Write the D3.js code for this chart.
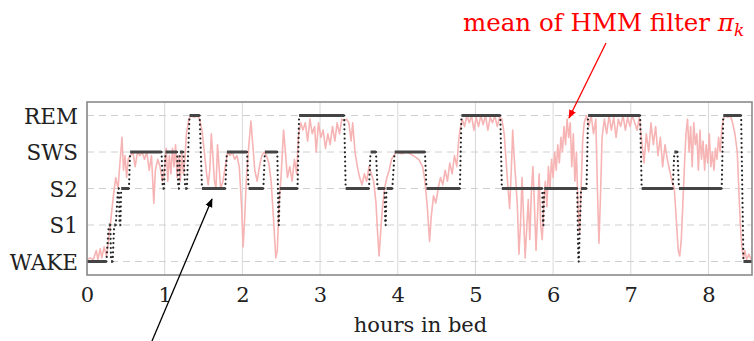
<!DOCTYPE html>
<html>
<head>
<meta charset="utf-8">
<script src="https://cdn.jsdelivr.net/npm/d3@7"></script>
<style>
  body { margin: 0; background: #fff; }
  svg { display: block; }
  text { font-family: "DejaVu Serif", "Liberation Serif", serif; }
</style>
</head>
<body>
<svg id="chart" width="754" height="341"></svg>
<script>
// sleep stages (bottom to top)
const stages = ['WAKE', 'S1', 'S2', 'SWS', 'REM'];
const hourTicks = [0, 1, 2, 3, 4, 5, 6, 7, 8];

// scored hypnogram: stage held from start to end (hours)
const stageStart = [0.00, 0.28, 0.31, 0.35, 0.40, 0.42, 0.44, 0.555, 0.975, 1.01, 1.175, 1.195, 1.265, 1.32, 1.48, 1.80, 2.08, 2.29, 2.465, 2.48, 2.73, 3.33, 3.65, 3.74, 3.84, 3.855, 3.96, 4.37, 4.82, 5.34, 5.87, 5.885, 6.325, 6.36, 6.45, 7.14, 7.56, 7.62, 8.19, 8.45];
const stageEnd   = [0.25, 0.30, 0.33, 0.37, 0.41, 0.43, 0.54, 0.96, 0.99, 1.16, 1.185, 1.24, 1.285, 1.45, 1.78, 2.06, 2.27, 2.45, 2.47, 2.71, 3.31, 3.63, 3.72, 3.83, 3.845, 3.93, 4.35, 4.80, 5.32, 5.86, 5.875, 6.31, 6.33, 6.43, 7.12, 7.54, 7.60, 8.17, 8.42, 8.56];
const stageName  = ['WAKE', 'S1', 'WAKE', 'S1', 'S2', 'S1', 'S2', 'SWS', 'S2', 'SWS', 'S2', 'SWS', 'S2', 'REM', 'S2', 'SWS', 'S2', 'SWS', 'S1', 'S2', 'REM', 'S2', 'SWS', 'S2', 'S1', 'S2', 'SWS', 'S2', 'REM', 'S2', 'S1', 'S2', 'WAKE', 'S2', 'REM', 'S2', 'SWS', 'S2', 'REM', 'WAKE'];

// mean of the HMM filter, [hours, stage index]
const filterMean = [
  [0.00,0.05],[0.04,0.1],[0.08,0.05],[0.12,0.3],[0.14,0.05],[0.17,0.35],[0.19,0.1],[0.22,0.4],[0.25,0.15],[0.28,0.6],
  [0.31,1.2],[0.34,1.8],[0.37,2.3],[0.40,2.0],[0.42,2.6],[0.44,3.1],[0.45,3.4],[0.47,2.5],[0.49,2.9],[0.51,2.3],
  [0.53,2.8],[0.56,2.9],[0.59,3.0],[0.62,2.6],[0.65,3.0],[0.68,2.9],[0.71,3.0],[0.74,2.8],[0.77,3.0],[0.80,2.5],
  [0.83,2.9],[0.86,1.6],[0.88,2.5],[0.91,2.8],[0.94,2.6],[0.97,2.2],[1.00,2.6],[1.02,3.1],[1.04,2.2],[1.06,2.9],
  [1.08,2.4],[1.10,3.1],[1.12,2.6],[1.14,3.2],[1.16,2.3],[1.18,2.9],[1.20,2.2],[1.22,3.0],[1.24,2.4],[1.26,2.8],
  [1.28,3.5],[1.31,3.9],[1.34,4.0],[1.38,3.95],[1.42,4.0],[1.45,3.9],[1.48,3.6],[1.51,3.0],[1.54,2.4],[1.56,2.1],
  [1.58,2.5],[1.60,3.5],[1.62,2.9],[1.64,2.2],[1.66,2.0],[1.68,3.2],[1.70,2.6],[1.72,2.0],[1.75,2.2],[1.78,2.6],
  [1.81,3.0],[1.84,2.9],[1.87,3.0],[1.90,2.8],[1.93,2.9],[1.96,2.6],[1.99,1.5],[2.01,0.4],[2.03,1.2],[2.05,2.2],
  [2.08,3.1],[2.11,3.85],[2.13,3.3],[2.16,2.5],[2.19,2.2],[2.22,2.6],[2.25,2.9],[2.28,3.0],[2.31,2.9],[2.34,2.7],
  [2.37,2.2],[2.40,1.2],[2.43,0.1],[2.45,0.3],[2.47,1.5],[2.50,2.4],[2.53,3.6],[2.55,3.1],[2.58,2.3],[2.61,2.6],
  [2.64,2.2],[2.67,2.8],[2.70,2.4],[2.72,3.4],[2.75,3.8],[2.78,3.6],[2.81,3.8],[2.84,3.3],[2.87,3.9],[2.90,3.5],
  [2.93,3.7],[2.95,3.0],[2.98,3.8],[3.01,3.4],[3.04,3.6],[3.07,3.1],[3.10,3.5],[3.13,3.2],[3.16,3.7],[3.19,3.3],
  [3.22,3.8],[3.25,3.5],[3.28,3.9],[3.31,3.85],[3.34,3.9],[3.37,3.8],[3.40,3.3],[3.42,3.8],[3.45,3.0],[3.48,2.6],
  [3.51,2.3],[3.54,2.1],[3.57,2.4],[3.60,2.2],[3.63,2.6],[3.66,2.4],[3.69,2.2],[3.72,1.6],[3.74,0.8],[3.76,0.15],
  [3.78,0.8],[3.80,1.4],[3.83,2.0],[3.86,2.3],[3.89,2.5],[3.92,2.8],[3.95,2.9],[3.98,3.0],[4.05,2.95],[4.12,3.0],
  [4.20,2.9],[4.27,2.8],[4.32,2.6],[4.35,2.2],[4.38,1.5],[4.41,0.55],[4.43,1.2],[4.46,1.8],[4.49,1.6],[4.52,2.0],
  [4.55,2.3],[4.58,2.1],[4.61,2.5],[4.64,2.2],[4.67,2.7],[4.70,2.4],[4.73,2.9],[4.76,2.6],[4.78,3.2],[4.80,3.6],
  [4.83,3.9],[4.86,3.7],[4.89,4.0],[4.92,3.8],[4.95,4.0],[4.98,3.6],[5.01,3.95],[5.04,3.7],[5.07,4.0],[5.10,3.75],
  [5.13,4.0],[5.16,3.6],[5.19,3.95],[5.22,3.8],[5.25,4.0],[5.28,3.7],[5.31,3.95],[5.34,3.9],[5.37,3.5],[5.40,2.6],
  [5.42,2.0],[5.44,1.45],[5.46,2.4],[5.48,3.6],[5.50,2.8],[5.52,2.2],[5.54,1.5],[5.56,0.2],[5.58,1.0],[5.60,2.3],
  [5.62,1.2],[5.64,0.1],[5.66,0.9],[5.68,1.7],[5.70,0.6],[5.72,1.9],[5.74,2.6],[5.76,1.5],[5.78,0.3],[5.80,1.3],
  [5.82,2.4],[5.84,1.0],[5.86,0.6],[5.88,1.6],[5.90,2.2],[5.92,1.5],[5.94,2.6],[5.96,2.0],[5.98,2.8],[6.00,2.3],
  [6.02,3.0],[6.04,2.5],[6.06,3.2],[6.08,2.7],[6.10,3.4],[6.12,3.0],[6.14,3.7],[6.16,3.2],[6.18,3.9],[6.20,3.4],
  [6.22,3.8],[6.24,2.6],[6.26,3.5],[6.28,2.2],[6.30,3.0],[6.32,1.5],[6.34,0.8],[6.36,2.0],[6.38,3.3],[6.40,3.8],
  [6.43,4.0],[6.46,3.7],[6.49,4.0],[6.52,3.5],[6.55,3.9],[6.57,2.0],[6.59,0.5],[6.61,1.8],[6.63,3.4],[6.66,3.9],
  [6.69,3.5],[6.72,4.0],[6.75,3.6],[6.78,3.95],[6.81,3.4],[6.84,3.9],[6.87,3.7],[6.90,4.0],[6.93,3.6],[6.96,3.95],
  [6.99,3.7],[7.02,4.0],[7.05,3.8],[7.08,3.6],[7.11,3.95],[7.14,3.3],[7.17,2.7],[7.20,3.5],[7.23,3.0],[7.26,3.8],
  [7.29,3.2],[7.32,3.7],[7.35,2.9],[7.38,3.4],[7.41,2.6],[7.44,3.2],[7.47,2.8],[7.50,2.5],[7.53,2.2],[7.56,2.0],
  [7.59,1.0],[7.61,0.3],[7.63,0.15],[7.65,0.6],[7.67,1.6],[7.69,2.6],[7.71,3.5],[7.73,3.9],[7.75,3.0],[7.77,3.7],
  [7.79,2.6],[7.81,3.8],[7.83,3.2],[7.85,3.5],[7.87,2.5],[7.89,3.6],[7.91,2.8],[7.93,3.3],[7.95,2.5],[7.97,3.2],
  [7.99,2.7],[8.01,3.5],[8.03,2.6],[8.05,3.0],[8.07,2.5],[8.09,3.1],[8.11,2.8],[8.13,3.4],[8.15,3.0],[8.17,3.6],
  [8.19,3.9],[8.22,4.0],[8.25,3.95],[8.28,4.0],[8.31,3.8],[8.34,3.5],[8.37,3.0],[8.39,2.0],[8.41,1.0],[8.43,0.4],
  [8.45,0.1],[8.47,0.3],[8.49,0.05],[8.52,0.2],[8.55,0.05]
];

// plot box
const box = { left: 87, right: 752, top: 102, bottom: 275 };

const svg = d3.select('#chart');

const x = d3.scaleLinear().domain([0, 8.56]).range([box.left, box.right]);
const y = d3.scaleLinear().domain([-0.37, 4.37]).range([box.bottom, box.top]);
const lvl = (name) => stages.indexOf(name);

// grid
svg.append('g')
    .selectAll('line')
    .data(hourTicks)
    .enter()
    .append('line')
    .attr('x1', (d) => x(d)).attr('x2', (d) => x(d))
    .attr('y1', box.top).attr('y2', box.bottom)
    .attr('stroke', '#d8d8d8')
    .attr('stroke-width', 1);

svg.append('g')
    .selectAll('line')
    .data(stages)
    .enter()
    .append('line')
    .attr('x1', box.left).attr('x2', box.right)
    .attr('y1', (d, i) => y(i)).attr('y2', (d, i) => y(i))
    .attr('stroke', '#d0d0d0')
    .attr('stroke-width', 1)
    .attr('stroke-dasharray', '7,5');

// axes: labels only, the frame is drawn below
const xAxis = svg.append('g')
    .attr('transform', 'translate(0,' + box.bottom + ')')
    .call(d3.axisBottom(x).tickValues(hourTicks).tickFormat(d3.format('d')).tickSize(0).tickPadding(12));
const yAxis = svg.append('g')
    .attr('transform', 'translate(' + box.left + ',0)')
    .call(d3.axisLeft(y).tickValues(d3.range(stages.length)).tickFormat((d) => stages[d]).tickSize(0).tickPadding(9));
[xAxis, yAxis].forEach((g) => {
    g.select('.domain').remove();
    g.selectAll('text')
        .attr('font-family', '"DejaVu Serif", serif')
        .attr('font-size', 21)
        .attr('fill', '#222');
});
yAxis.selectAll('text').attr('font-size', 21.5).attr('dy', '0.36em');

// filter mean (pink)
const line = d3.line().x((d) => x(d[0])).y((d) => y(d[1]));
svg.append('path')
    .datum(filterMean)
    .attr('d', line)
    .attr('fill', 'none')
    .attr('stroke', '#f7b4b4')
    .attr('stroke-width', 1.6)
    .attr('stroke-linejoin', 'round');

// hypnogram transitions (dotted)
const segs = stageStart.map((s, i) => ({ s: s, e: stageEnd[i], v: lvl(stageName[i]) }));
const trans = segs.slice(1).map((d, i) => ({ a: segs[i], b: d }));
svg.append('g')
    .selectAll('line')
    .data(trans)
    .enter()
    .append('line')
    .attr('x1', (d) => x(d.a.e)).attr('y1', (d) => y(d.a.v))
    .attr('x2', (d) => x(d.b.s)).attr('y2', (d) => y(d.b.v))
    .attr('stroke', '#222')
    .attr('stroke-width', 2.2)
    .attr('stroke-linecap', 'round')
    .attr('stroke-dasharray', '0,4.6');

// hypnogram levels (solid)
svg.append('g')
    .selectAll('line')
    .data(segs)
    .enter()
    .append('line')
    .attr('x1', (d) => x(d.s)).attr('x2', (d) => x(d.e))
    .attr('y1', (d) => y(d.v)).attr('y2', (d) => y(d.v))
    .attr('stroke', '#444')
    .attr('stroke-width', 3);

// frame
svg.append('rect')
    .attr('x', box.left).attr('y', box.top)
    .attr('width', box.right - box.left).attr('height', box.bottom - box.top)
    .attr('fill', 'none')
    .attr('stroke', '#8a8a8a')
    .attr('stroke-width', 1.6);

// x label
svg.append('text')
    .attr('x', (box.left + box.right) / 2 + 1).attr('y', 332)
    .attr('text-anchor', 'middle')
    .attr('font-size', 21)
    .attr('fill', '#222')
    .text('hours in bed');

// annotations
const defs = svg.append('defs');
[['headRed', '#ff0000'], ['headBlack', '#000']].forEach(([id, c]) => {
    defs.append('marker')
        .attr('id', id)
        .attr('viewBox', '0 0 10 10')
        .attr('refX', 9).attr('refY', 5)
        .attr('markerWidth', 9).attr('markerHeight', 9)
        .attr('markerUnits', 'userSpaceOnUse')
        .attr('orient', 'auto')
        .append('path')
        .attr('d', 'M0,1 L10,5 L0,9 Z')
        .attr('fill', c);
});

const note = svg.append('text')
    .attr('x', 463).attr('y', 31)
    .attr('font-size', 24.5)
    .attr('fill', '#ff0000');
note.append('tspan').text('mean of HMM filter ');
note.append('tspan').attr('font-style', 'italic').text('π');
note.append('tspan').attr('font-style', 'italic').attr('font-size', 17).attr('dy', 5).text('k');

svg.append('line')
    .attr('x1', 606).attr('y1', 43)
    .attr('x2', 569).attr('y2', 118)
    .attr('stroke', '#ff0000')
    .attr('stroke-width', 1.3)
    .attr('marker-end', 'url(#headRed)');

svg.append('line')
    .attr('x1', 152).attr('y1', 341)
    .attr('x2', 212).attr('y2', 199)
    .attr('stroke', '#000')
    .attr('stroke-width', 1.3)
    .attr('marker-end', 'url(#headBlack)');
</script>
</body>
</html>
